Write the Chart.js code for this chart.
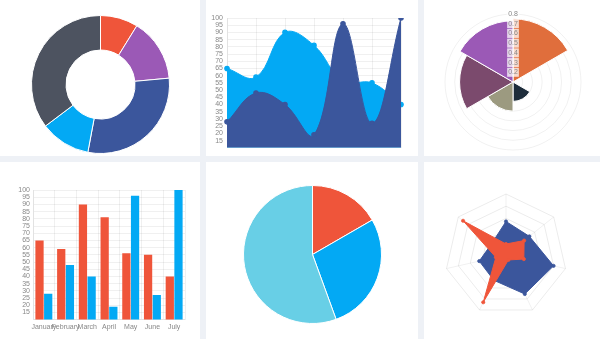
<!DOCTYPE html>
<html>
<head>
<meta charset="utf-8">
<script src="https://cdn.jsdelivr.net/npm/chart.js@4/dist/chart.umd.min.js"></script>
<style>
  html, body { margin: 0; padding: 0; }
  body { width: 600px; height: 339px; background: #eef1f6; position: relative; overflow: hidden; }
  .pannello { position: absolute; background: #fff; }
  .pannello canvas { display: block; }
</style>
</head>
<body>
<div class="pannello" style="left:0;top:0;width:200px;height:156px"><canvas id="ciambella"></canvas></div>
<div class="pannello" style="left:206px;top:0;width:212px;height:156px"><canvas id="linea"></canvas></div>
<div class="pannello" style="left:424px;top:0;width:176px;height:156px"><canvas id="polare"></canvas></div>
<div class="pannello" style="left:0;top:162px;width:200px;height:177px"><canvas id="barre"></canvas></div>
<div class="pannello" style="left:206px;top:162px;width:212px;height:177px"><canvas id="torta"></canvas></div>
<div class="pannello" style="left:424px;top:162px;width:176px;height:177px"><canvas id="radar"></canvas></div>
<script>
// dati
const mesi = ['January', 'February', 'March', 'April', 'May', 'June', 'July'];
const serieA = [65, 59, 90, 81, 56, 55, 40];
const serieB = [28, 48, 40, 19, 96, 27, 100];
const ciambellaValori = [30, 50, 100, 40, 120];
const tortaValori = [30, 50, 100];
const polareEtichette = ['A', 'B', 'C', 'D', 'E', 'F'];
const polareValori = [0.75, 0.1, 0.3, 0.4, 0.65, 0.73];
const polareTick = [0.1, 0.8, 0.1];   // min, max, passo
const assiTick = [10, 100, 5];        // min, max, passo (linea e barre)
const radarTick = [10, 110, 20];

// colori
const ROSSO = '#ef553a';
const AZZURRO = '#03a9f4';
const BLU = '#3b569c';
const VIOLA = '#9b59b6';
const GRIGIO = '#4d5360';
const CELESTE = '#68cfe6';
const griglia = 'rgba(0,0,0,0.06)';

Chart.defaults.animation = false;
Chart.defaults.font.family = "'Liberation Sans', Arial, sans-serif";
Chart.defaults.font.size = 7;
Chart.defaults.color = '#888';
Chart.defaults.plugins.legend.display = false;
Chart.defaults.plugins.tooltip.enabled = false;
Chart.defaults.maintainAspectRatio = false;

const nascondiMin = (min) => (v) => v === min ? '' : v;

// 1. ciambella
new Chart(document.getElementById('ciambella'), {
    type: 'doughnut',
    data: {
        labels: ciambellaValori.map((v, i) => 'd' + i),
        datasets: [{
            data: ciambellaValori,
            backgroundColor: [ROSSO, VIOLA, BLU, AZZURRO, GRIGIO],
            borderColor: '#fff', borderWidth: 1, hoverOffset: 0
        }]
    },
    options: { cutout: '50%', layout: { padding: { top: 15, bottom: 2, left: 1, right: 0 } } }
});

// 2. linee ad area
new Chart(document.getElementById('linea'), {
    type: 'line',
    data: {
        labels: mesi,
        datasets: [
            { data: serieA, backgroundColor: AZZURRO, borderColor: AZZURRO, pointBackgroundColor: AZZURRO, fill: 'start', order: 1 },
            { data: serieB, backgroundColor: BLU, borderColor: BLU, pointBackgroundColor: BLU, fill: 'start', order: 0 }
        ]
    },
    options: {
        layout: { padding: { top: 18, right: 17, bottom: 5, left: 0 } },
        elements: {
            line: { tension: 0.4, borderWidth: 1 },
            point: { radius: 2.2, borderWidth: 1.2, borderColor: '#fff' }
        },
        scales: {
            x: { grid: { color: griglia, drawTicks: false }, border: { color: griglia }, ticks: { display: false } },
            y: {
                min: assiTick[0], max: assiTick[1],
                ticks: { stepSize: assiTick[2], autoSkip: false, padding: 4, callback: nascondiMin(assiTick[0]) },
                grid: { color: griglia, drawTicks: false }, border: { color: griglia },
                afterFit: (s) => { s.width = 21; }
            }
        }
    }
});

// 3. area polare
new Chart(document.getElementById('polare'), {
    type: 'polarArea',
    data: {
        labels: polareEtichette,
        datasets: [{
            data: polareValori,
            backgroundColor: ['#e06e3c', '#cccccc', '#1e2d3b', '#9c9a80', '#7b4a6d', VIOLA],
            borderColor: '#fff', borderWidth: 1
        }]
    },
    options: {
        layout: { padding: { top: 9, bottom: 1, left: 2, right: 0 } },
        scales: {
            r: {
                min: polareTick[0], max: polareTick[1],
                ticks: {
                    stepSize: polareTick[2], z: 1, color: '#888',
                    backdropColor: 'rgba(255,255,255,0.75)', backdropPadding: 1,
                    callback: (v) => v.toFixed(1)
                },
                grid: { color: griglia }
            }
        }
    }
});

// 4. barre
new Chart(document.getElementById('barre'), {
    type: 'bar',
    data: {
        labels: mesi,
        datasets: [
            { data: serieA, backgroundColor: ROSSO },
            { data: serieB, backgroundColor: AZZURRO }
        ]
    },
    options: {
        categoryPercentage: 0.8, barPercentage: 0.95,
        layout: { padding: { top: 28, right: 15, bottom: 5, left: 0 } },
        scales: {
            x: {
                grid: { color: griglia, drawTicks: false }, border: { color: griglia },
                ticks: { autoSkip: false, maxRotation: 0, padding: 3 }
            },
            y: {
                min: assiTick[0], max: assiTick[1],
                ticks: { stepSize: assiTick[2], autoSkip: false, padding: 3, callback: nascondiMin(assiTick[0]) },
                grid: { color: griglia, drawTicks: false }, border: { color: griglia },
                afterFit: (s) => { s.width = 33; }
            }
        }
    }
});

// 5. torta
new Chart(document.getElementById('torta'), {
    type: 'pie',
    data: {
        labels: tortaValori.map((v, i) => 't' + i),
        datasets: [{
            data: tortaValori,
            backgroundColor: [ROSSO, AZZURRO, CELESTE],
            borderColor: '#fff', borderWidth: 1, hoverOffset: 0
        }]
    },
    options: { layout: { padding: { top: 23, bottom: 15, left: 1, right: 0 } } }
});

// 6. radar
new Chart(document.getElementById('radar'), {
    type: 'radar',
    data: {
        labels: mesi,
        datasets: [
            { data: serieB, backgroundColor: ROSSO, borderColor: ROSSO, pointBackgroundColor: ROSSO },
            { data: serieA, backgroundColor: BLU, borderColor: BLU, pointBackgroundColor: BLU }
        ]
    },
    options: {
        layout: { padding: { top: 32, bottom: 22, left: 0, right: 12 } },
        elements: {
            line: { borderWidth: 1, tension: 0 },
            point: { radius: 1.6, borderWidth: 0.8, borderColor: '#fff' }
        },
        scales: {
            r: {
                min: radarTick[0], max: radarTick[1],
                ticks: { display: false, stepSize: radarTick[2] },
                pointLabels: { display: false },
                grid: { color: 'rgba(0,0,0,0.08)' },
                angleLines: { color: 'rgba(0,0,0,0.06)' }
            }
        }
    }
});
</script>
</body>
</html>
